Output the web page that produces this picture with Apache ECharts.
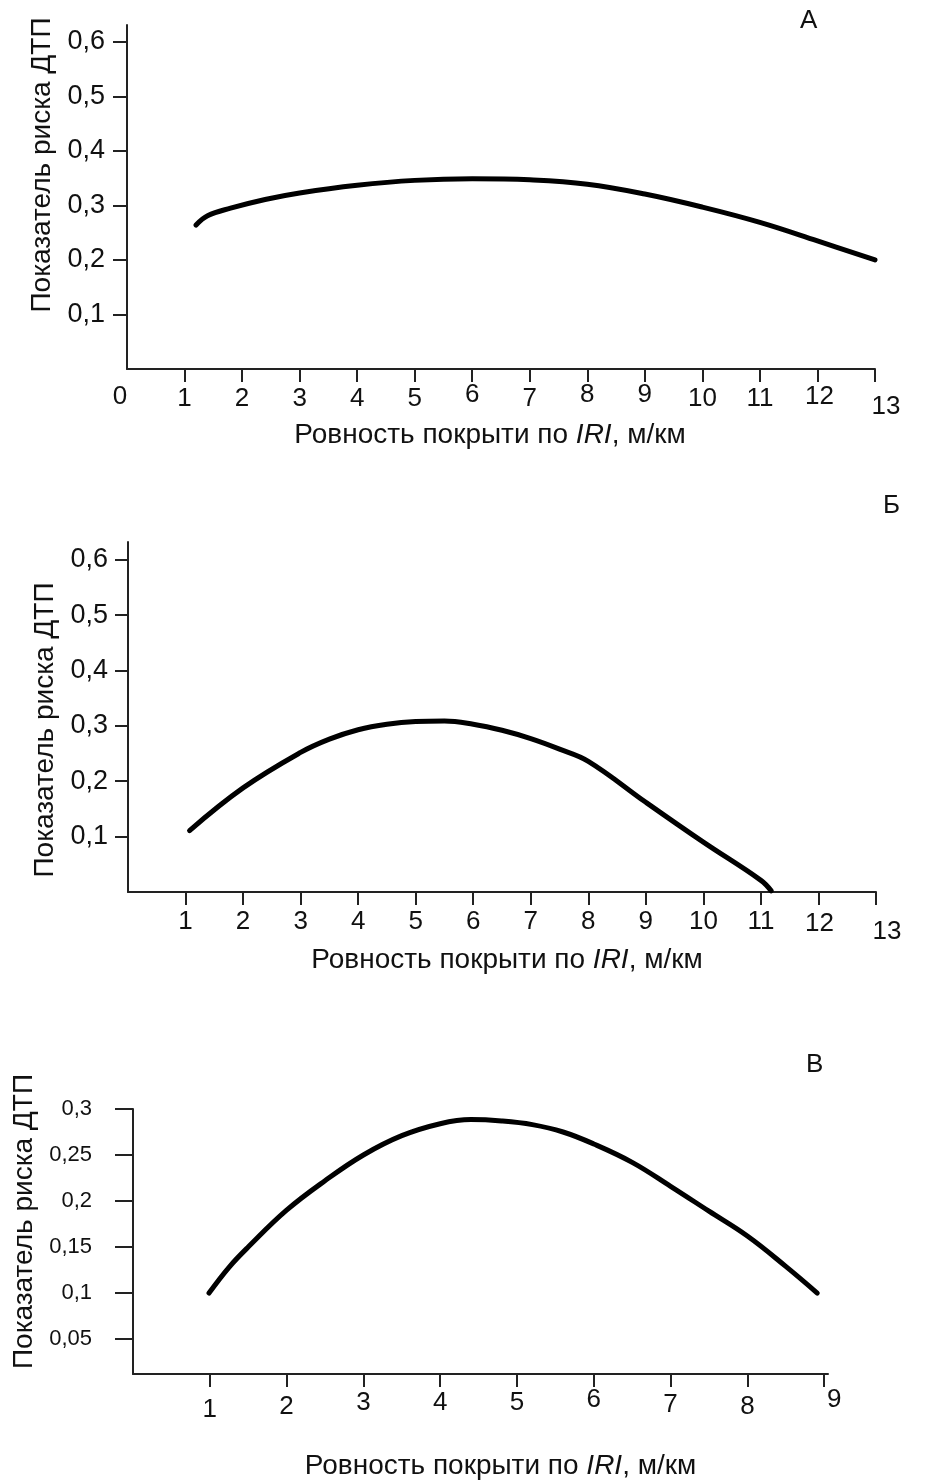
<!DOCTYPE html>
<html>
<head>
<meta charset="utf-8">
<script src="https://cdn.jsdelivr.net/npm/echarts@6/dist/echarts.min.js"></script>
<style>
  html, body { margin: 0; padding: 0; background: #fff; }
  #chart { width: 929px; height: 1481px; }
</style>
</head>
<body>
<div id="chart"></div>
<script>
// Panel А: risk index vs. IRI, 0–13 m/km
const xTicksA = [0, 1, 2, 3, 4, 5, 6, 7, 8, 9, 10, 11, 12, 13];
const yTicksA = [0.1, 0.2, 0.3, 0.4, 0.5, 0.6];
const iriA  = [1.2, 1.4, 1.8, 2.4, 3, 4, 5, 6, 7, 8, 9, 10, 11, 12, 13];
const riskA = [0.264, 0.281, 0.295, 0.311, 0.323, 0.337, 0.346, 0.349, 0.347, 0.339, 0.321, 0.297, 0.269, 0.235, 0.2];

// Panel Б
const xTicksB = [1, 2, 3, 4, 5, 6, 7, 8, 9, 10, 11, 12, 13];
const yTicksB = [0.1, 0.2, 0.3, 0.4, 0.5, 0.6];
const iriB  = [1.07, 2, 3, 3.5, 4, 4.5, 5, 5.5, 6, 6.5, 7, 7.5, 8, 9, 10, 11, 11.18];
const riskB = [0.111, 0.188, 0.252, 0.276, 0.293, 0.303, 0.308, 0.309, 0.303, 0.292, 0.277, 0.258, 0.236, 0.162, 0.09, 0.021, 0.002];

// Panel В
const xTicksC = [1, 2, 3, 4, 5, 6, 7, 8, 9];
const yTicksC = [0.05, 0.1, 0.15, 0.2, 0.25, 0.3];
const iriC  = [0.99, 1.25, 1.5, 2.0, 2.5, 3.0, 3.5, 4.0, 4.4, 4.8, 5.2, 5.6, 6.0, 6.5, 7.0, 7.5, 8.0, 8.5, 8.91];
const riskC = [0.1, 0.128, 0.15, 0.19, 0.222, 0.25, 0.271, 0.284, 0.2885, 0.287, 0.283, 0.275, 0.262, 0.242, 0.216, 0.189, 0.162, 0.129, 0.1];

const panelLetters = ['А', 'Б', 'В'];
const xTitle = 'Ровность покрыти по {i|IRI}, м/км';
const yTitle = 'Показатель риска ДТП';

const FONT = '"Liberation Sans", Arial, sans-serif';
const INK = '#111';
const AXIS = '#222';

function fmtNum(v) {
  return String(Math.round(v * 100) / 100).replace('.', ',');
}

// x labels sit at slightly uneven places; a value may carry a small [down, right] nudge
function shiftedLabels(values, nudges, size, margin) {
  const BASE = 8;
  const rich = {};
  const keyOf = n => 'n' + (n[0] + 20) + '_' + (n[1] + 20);
  values.forEach(v => {
    const n = nudges[v] || [0, 0];
    const dx = n[1];
    rich[keyOf(n)] = {
      fontSize: size, fontFamily: FONT, color: INK,
      padding: [BASE + n[0], dx < 0 ? -2 * dx : 0, 0, dx > 0 ? 2 * dx : 0]
    };
  });
  return {
    customValues: values,
    margin: margin - BASE,
    fontSize: size,
    fontFamily: FONT,
    color: INK,
    rich: rich,
    formatter: v => '{' + keyOf(nudges[v] || [0, 0]) + '|' + fmtNum(v) + '}'
  };
}

function xAxisCfg(grid, max, ticks, labels, nudges, tickLen, labelMargin, nameGap, namePad) {
  return {
    type: 'value', gridIndex: grid, min: 0, max: max,
    axisLine: { show: true, onZero: false, lineStyle: { color: AXIS, width: 2 } },
    axisTick: { show: true, customValues: ticks, length: tickLen, lineStyle: { color: AXIS, width: 2 } },
    axisLabel: shiftedLabels(labels, nudges, 26, labelMargin),
    splitLine: { show: false },
    name: xTitle, nameLocation: 'middle', nameGap: nameGap,
    nameTextStyle: {
      fontSize: 28, fontFamily: FONT, color: INK, padding: namePad,
      rich: { i: { fontSize: 28, fontFamily: FONT, color: INK, fontStyle: 'italic' } }
    }
  };
}

function yAxisCfg(grid, min, max, ticks, tickLen, labelSize, labelMargin, nameGap, namePad) {
  return {
    type: 'value', gridIndex: grid, min: min, max: max,
    axisLine: { show: true, onZero: false, lineStyle: { color: AXIS, width: 2 } },
    axisTick: { show: true, customValues: ticks, length: tickLen, lineStyle: { color: AXIS, width: 2 } },
    axisLabel: { customValues: ticks, margin: labelMargin, fontSize: labelSize, fontFamily: FONT, color: INK, formatter: fmtNum },
    splitLine: { show: false },
    name: yTitle, nameLocation: 'middle', nameRotate: 90, nameGap: nameGap,
    nameTextStyle: { fontSize: 28, fontFamily: FONT, color: INK, padding: namePad }
  };
}

function curve(grid, xs, ys) {
  return {
    type: 'line', xAxisIndex: grid, yAxisIndex: grid,
    data: xs.map((x, i) => [x, ys[i]]),
    smooth: 0.4, symbol: 'none', silent: true,
    lineStyle: { color: '#000', width: 5, cap: 'round', join: 'round' }
  };
}

const chart = echarts.init(document.getElementById('chart'), null, { renderer: 'canvas' });

chart.setOption({
  backgroundColor: '#fff',
  animation: false,
  grid: [
    { left: 127, top: 25, width: 748, height: 344 },
    { left: 128, top: 542, width: 748, height: 350 },
    { left: 133, top: 1109, width: 695, height: 265 }
  ],
  xAxis: [
    xAxisCfg(0, 13, xTicksA.slice(1), xTicksA,
      { 0: [-2, -7], 6: [-4, 0], 8: [-4, 0], 9: [-4, 0], 12: [-2, 2], 13: [8, 11] }, 13, 17, 52, [0, 22, 0, 0]),
    xAxisCfg(1, 13, xTicksB, xTicksB, { 12: [2, 1], 13: [10, 11] }, 13, 17, 54, [0, 0, 0, 10]),
    xAxisCfg(2, 9.05, xTicksC, xTicksC,
      { 1: [10, 0], 2: [7, 0], 3: [3, 0], 4: [3, 0], 5: [3, 0], 7: [5, 0], 8: [7, 0], 9: [0, 10] }, 13, 13, 78, [0, 0, 0, 40])
  ],
  yAxis: [
    yAxisCfg(0, 0, 0.631, yTicksA, 14, 27, 22, 67, [0, 0, 0, 64]),
    yAxisCfg(1, 0, 0.632, yTicksB, 13, 27, 20, 69, [0, 26, 0, 0]),
    yAxisCfg(2, 0.012, 0.3, yTicksC, 18, 22, 41, 94, [0, 0, 0, 40])
  ],
  graphic: [
    { type: 'text', left: 800, top: 8, style: { text: panelLetters[0], font: '26px ' + FONT, fill: INK } },
    { type: 'text', left: 883, top: 493, style: { text: panelLetters[1], font: '26px ' + FONT, fill: INK } },
    { type: 'text', left: 806, top: 1052, style: { text: panelLetters[2], font: '26px ' + FONT, fill: INK } }
  ],
  series: [
    curve(0, iriA, riskA),
    curve(1, iriB, riskB),
    curve(2, iriC, riskC)
  ]
});
</script>
</body>
</html>
